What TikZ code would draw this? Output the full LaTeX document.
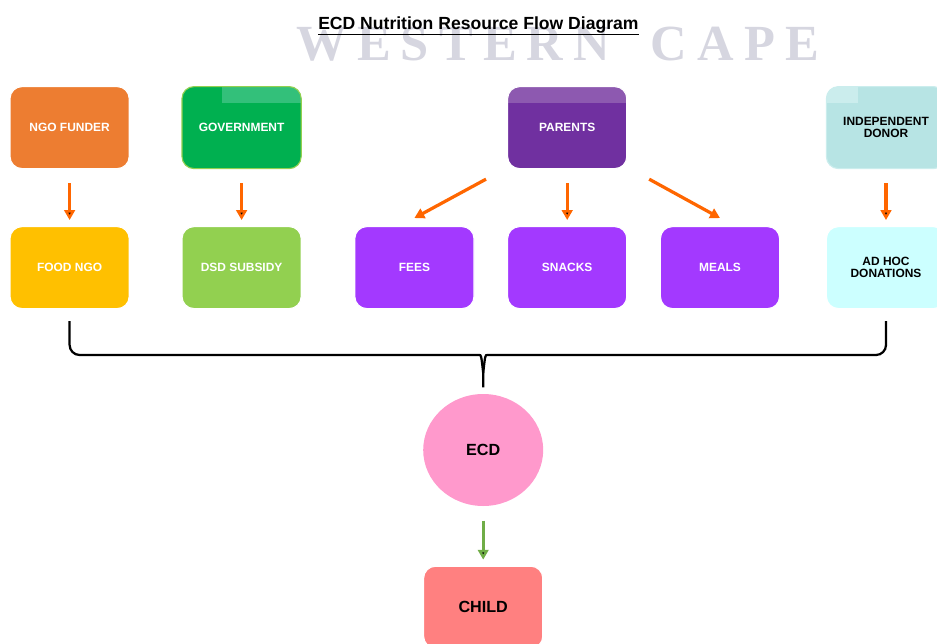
\documentclass[tikz,border=0pt]{standalone}
\usepackage{fontspec}
\setmainfont{Liberation Sans}
\newfontfamily\wmfont{Liberation Serif}
\usetikzlibrary{arrows.meta,shapes.geometric}

\definecolor{funderfill}{RGB}{237,125,49}
\definecolor{govfill}{RGB}{0,176,80}
\definecolor{govtab}{RGB}{51,192,122}
\definecolor{parentfill}{RGB}{112,48,160}
\definecolor{parentband}{RGB}{141,89,176}
\definecolor{donorfill}{RGB}{183,228,228}
\definecolor{donortab}{RGB}{203,237,237}
\definecolor{foodfill}{RGB}{255,192,0}
\definecolor{dsdfill}{RGB}{146,208,80}
\definecolor{purplefill}{RGB}{163,57,255}
\definecolor{adhocfill}{RGB}{204,255,255}
\definecolor{ecdfill}{RGB}{255,153,204}
\definecolor{childfill}{RGB}{255,128,128}
\definecolor{arroworange}{RGB}{255,102,0}
\definecolor{arrowgreen}{RGB}{112,173,71}
\definecolor{wmgray}{RGB}{214,214,224}

\begin{document}
\begin{tikzpicture}[->,>={Triangle[length=7pt,width=7.5pt]},thick,node distance=3.5cm,
  flow node/.style={rectangle,rounded corners=0.3cm,draw=white,
  font=\bfseries\fontsize{8.5}{8.5}\selectfont,text=white,align=center,
  minimum width=2.98cm,minimum height=2.05cm},
  flow arrow/.style={line width=2.3pt,draw=arroworange,
  shorten <=0.35cm,shorten >=0.15cm}]

  \useasboundingbox (0,0) rectangle (23.425,-16.1);
  \clip (0,0) rectangle (23.425,-16.1);

  \node[text=wmgray,anchor=base,
  font=\wmfont\bfseries\fontsize{36}{36}\selectfont\addfontfeature{LetterSpace=20}]
    (wm) at (13.94,-1.5) {WESTERN\hspace{0.8em}CAPE};
  \node[font=\bfseries\fontsize{12.5}{13}\selectfont,anchor=base]
    (title) at (11.96,-0.725) {\underline{ECD Nutrition Resource Flow Diagram}};

  \node[flow node,fill=funderfill] (funder) at (1.74,-3.19) {NGO FUNDER};
  \node[flow node,fill=govfill,draw=dsdfill,
  path picture={\fill[govtab,sharp corners] ([xshift=-0.49cm]path picture bounding box.north)
    rectangle ([yshift=-0.4cm]path picture bounding box.north east);}]
    (gov) at (6.04,-3.19) {GOVERNMENT};
  \node[flow node,fill=parentfill,
  path picture={\fill[parentband,sharp corners] (path picture bounding box.north west)
    rectangle ([yshift=-0.4cm]path picture bounding box.north east);}]
    (parents) at (14.18,-3.19) {PARENTS};
  \node[flow node,fill=donorfill,text=black,draw=donortab,
  path picture={\fill[donortab,sharp corners] (path picture bounding box.north west)
    rectangle ([xshift=0.78cm,yshift=-0.4cm]path picture bounding box.north west);}]
    (donor) at (22.15,-3.19) {INDEPENDENT\\DONOR};

  \node[flow node,fill=foodfill] (food) [below of=funder] {FOOD NGO};
  \node[flow node,fill=dsdfill] (dsd) [below of=gov] {DSD SUBSIDY};
  \node[flow node,fill=purplefill] (snacks) [below of=parents] {SNACKS};
  \node[flow node,fill=purplefill] (fees) [left of=snacks,node distance=3.82cm] {FEES};
  \node[flow node,fill=purplefill] (meals) [right of=snacks,node distance=3.82cm] {MEALS};
  \node[flow node,fill=adhocfill,text=black] (adhoc) [below of=donor] {AD HOC\\DONATIONS};

  \node[ellipse,fill=ecdfill,minimum width=3cm,minimum height=2.8cm,
  font=\bfseries\fontsize{11.5}{12}\selectfont] (ecd) at (12.08,-11.25) {ECD};
  \node[flow node,fill=childfill,text=black,font=\bfseries\fontsize{11.5}{12}\selectfont]
    (child) [below of=ecd,node distance=3.93cm] {CHILD};

  \path[flow arrow]
    (funder) edge (food)
    (gov) edge (dsd)
    (parents) edge (snacks)
    (donor) edge (adhoc);
  \draw[flow arrow,shorten <=0pt,shorten >=0pt]
    ([xshift=-2.03cm,yshift=-0.25cm]parents.south) -- ([yshift=0.2cm]fees.north);
  \draw[flow arrow,shorten <=0pt,shorten >=0pt]
    ([xshift=2.05cm,yshift=-0.25cm]parents.south) -- ([yshift=0.2cm]meals.north);
  \path[flow arrow,draw=arrowgreen] (ecd) edge (child);

  % brace gathering the second row into ECD
  \coordinate (mid) at (ecd.north |- 0,-8.875);
  \draw[-,line width=1.6pt,rounded corners=0.25cm]
    ([yshift=-0.3cm]food.south) -- (food.south |- mid) -- ([xshift=-0.35cm]mid)
    [sharp corners] .. controls ([xshift=-0.05cm]mid) .. ([yshift=-0.45cm]mid)
    -- ([yshift=0.15cm]ecd.north);
  \draw[-,line width=1.6pt,rounded corners=0.25cm]
    ([yshift=-0.3cm]adhoc.south) -- (adhoc.south |- mid) -- ([xshift=0.35cm]mid)
    [sharp corners] .. controls ([xshift=0.05cm]mid) .. ([yshift=-0.45cm]mid);

\end{tikzpicture}
\end{document}
